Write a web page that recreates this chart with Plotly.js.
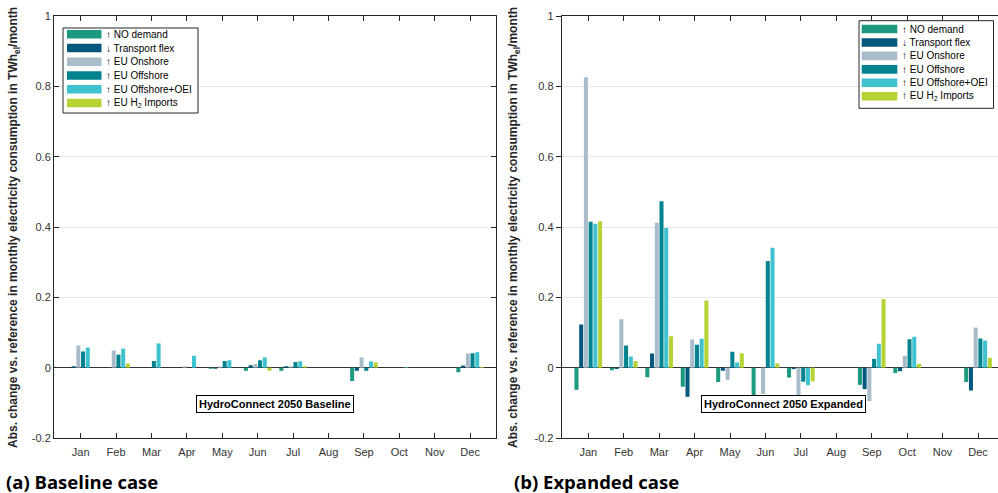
<!DOCTYPE html>
<html>
<head>
<meta charset="utf-8">
<script src="https://cdn.plot.ly/plotly-3.0.1.min.js"></script>
<style>
  html, body { margin: 0; padding: 0; background: #fff; overflow: hidden; }
  #chart { width: 1010px; height: 493px; }
</style>
</head>
<body>
<div id="chart"></div>
<script>
// Month categories and scenario names
const months = ['Jan', 'Feb', 'Mar', 'Apr', 'May', 'Jun', 'Jul', 'Aug', 'Sep', 'Oct', 'Nov', 'Dec'];
const seriesNames = ['\u2191 NO demand', '\u2193 Transport flex', '\u2191 EU Onshore',
                     '\u2191 EU Offshore', '\u2191 EU Offshore+OEI', '\u2191 EU H<sub>2</sub> Imports'];
const seriesColors = ['#1b9a80', '#03597d', '#a9bcc9', '#00838f', '#3ec2cf', '#b5d334'];

// HydroConnect 2050 Baseline: change in monthly consumption, TWh_el/month
const baseNO  = [0, 0, 0, 0, -0.003, -0.009, -0.009, 0, -0.038, 0, 0, -0.013];
const baseTF  = [0.004, 0, 0, 0, -0.003, 0.007, 0.004, 0, -0.009, 0, 0, 0.006];
const baseOn  = [0.063, 0.049, 0, 0.004, 0.003, 0.010, 0.004, 0, 0.029, 0, 0, 0.040];
const baseOff = [0.046, 0.037, 0.019, 0, 0.019, 0.021, 0.016, 0, -0.009, 0, 0, 0.041];
const baseOEI = [0.057, 0.054, 0.069, 0.034, 0.021, 0.029, 0.018, 0, 0.018, 0.002, 0, 0.044];
const baseH2  = [0, 0.012, 0, 0, 0, -0.009, 0.004, 0, 0.015, 0, 0, 0.002];

// HydroConnect 2050 Expanded
const expNO  = [-0.063, -0.007, -0.027, -0.054, -0.041, -0.078, -0.028, 0, -0.049, -0.015, 0, -0.041];
const expTF  = [0.123, -0.004, 0.040, -0.083, -0.009, 0, -0.004, 0, -0.061, -0.010, 0, -0.065];
const expOn  = [0.826, 0.138, 0.412, 0.080, -0.035, -0.075, -0.080, 0, -0.095, 0.034, 0, 0.114];
const expOff = [0.415, 0.063, 0.473, 0.065, 0.045, 0.303, -0.040, 0, 0.025, 0.081, 0, 0.083];
const expOEI = [0.409, 0.032, 0.397, 0.082, 0.015, 0.341, -0.050, 0, 0.068, 0.088, 0, 0.077];
const expH2  = [0.416, 0.019, 0.089, 0.191, 0.041, 0.012, -0.039, 0, 0.195, 0.011, 0, 0.028];

const yTicks = [-0.2, 0, 0.2, 0.4, 0.6, 0.8, 1];
const yTickText = ['-0.2', '0', '0.2', '0.4', '0.6', '0.8', '1'];
const yTitle = 'Abs. change vs. reference in monthly electricity consumption in TWh<sub>el</sub>/month';

const baseSeries = [baseNO, baseTF, baseOn, baseOff, baseOEI, baseH2];
const expSeries = [expNO, expTF, expOn, expOff, expOEI, expH2];

// Pixel helpers for the figure canvas
const W = 1010, H = 493;
const fx = p => p / W;
const fy = p => 1 - p / H;

const monthIdx = months.map((m, i) => i + 1);
const traces = [];
baseSeries.forEach((vals, k) => traces.push({
  type: 'bar', x: monthIdx, y: vals, xaxis: 'x', yaxis: 'y',
  name: seriesNames[k], marker: { color: seriesColors[k] }, showlegend: false, hoverinfo: 'skip'
}));
expSeries.forEach((vals, k) => traces.push({
  type: 'bar', x: monthIdx, y: vals, xaxis: 'x2', yaxis: 'y2',
  name: seriesNames[k], marker: { color: seriesColors[k] }, showlegend: false, hoverinfo: 'skip'
}));

const axisFont = { family: 'Liberation Sans, Arial, sans-serif', size: 11, color: '#333' };
function xAxis(domain, range) {
  return {
    domain: domain, range: range, tickmode: 'array', tickvals: monthIdx, ticktext: months,
    ticks: 'inside', ticklen: 5, tickcolor: '#262626', mirror: 'ticks',
    showline: true, linecolor: '#262626', linewidth: 1, showgrid: false, zeroline: false,
    tickfont: axisFont, ticklabelstandoff: 4, fixedrange: true
  };
}
function yAxis(domain, anchor, tickDir) {
  return {
    domain: domain, anchor: anchor, range: [-0.2, 1], tickmode: 'array', tickvals: yTicks, ticktext: yTickText,
    ticks: tickDir, ticklen: 5, tickcolor: '#262626', mirror: 'ticks',
    showline: true, linecolor: '#262626', linewidth: 1,
    showgrid: true, gridcolor: '#e8e8e8', gridwidth: 1,
    zeroline: true, zerolinecolor: '#333', zerolinewidth: 1.3,
    tickfont: axisFont, fixedrange: true
  };
}

const yDom = [fy(438), fy(16)];

// Legend boxes drawn as shapes + annotations (wide colour swatches)
const shapes = [];
const annotations = [];
function addLegend(box, swX, rowY) {
  shapes.push({ type: 'rect', xref: 'paper', yref: 'paper',
    x0: fx(box[0]), x1: fx(box[1]), y0: fy(box[3]), y1: fy(box[2]),
    line: { color: '#262626', width: 1 }, fillcolor: '#fff', layer: 'above' });
  seriesNames.forEach((name, k) => {
    const cy = rowY[0] + k * rowY[1];
    shapes.push({ type: 'rect', xref: 'paper', yref: 'paper',
      x0: fx(swX[0]), x1: fx(swX[1]), y0: fy(cy + 4.3), y1: fy(cy - 4.3),
      line: { width: 0 }, fillcolor: seriesColors[k], layer: 'above' });
    annotations.push({ xref: 'paper', yref: 'paper', x: fx(swX[1] + 2.5), y: fy(cy),
      xanchor: 'left', yanchor: 'middle', showarrow: false, text: name,
      font: { family: 'Liberation Sans, Arial, sans-serif', size: 10, color: '#000' } });
  });
}
addLegend([63, 198, 28, 113], [67, 101.5], [34.3, 13.75]);
addLegend([859, 993.5, 20.7, 108.3], [861.7, 897.3], [29, 13.45]);

// Scenario labels inside each panel
[['HydroConnect 2050 Baseline', 275], ['HydroConnect 2050 Expanded', 783]].forEach(([t, cx]) => {
  annotations.push({ xref: 'paper', yref: 'paper', x: fx(cx), y: fy(404), xanchor: 'center', yanchor: 'middle',
    showarrow: false, text: '<b>' + t + '</b>', bgcolor: '#fff', bordercolor: '#000', borderwidth: 1, borderpad: 2,
    font: { family: 'Liberation Sans, Arial, sans-serif', size: 11, color: '#000' } });
});

// Y-axis titles
[13.5, 513.5].forEach(x => {
  annotations.push({ xref: 'paper', yref: 'paper', x: fx(x), y: fy(227.5), xanchor: 'center', yanchor: 'middle',
    textangle: -90, showarrow: false, text: '<b>' + yTitle + '</b>',
    font: { family: 'Liberation Sans, Arial, sans-serif', size: 12, color: '#262626' } });
});

// Panel captions
[['(a) Baseline case', 4], ['(b) Expanded case', 512]].forEach(([t, x]) => {
  annotations.push({ xref: 'paper', yref: 'paper', x: fx(x), y: fy(481.5), xanchor: 'left', yanchor: 'middle',
    showarrow: false, text: '<b>' + t + '</b>',
    font: { family: '"Open Sans", sans-serif', size: 18.5, color: '#000' } });
});

const layout = {
  width: W, height: H,
  margin: { l: 0, r: 0, t: 0, b: 0 },
  paper_bgcolor: '#fff', plot_bgcolor: '#fff',
  barmode: 'group', bargap: 0.2, bargroupgap: 0.15,
  showlegend: false,
  xaxis: xAxis([fx(54), fx(496)], [0.246, 12.73]),
  yaxis: yAxis(yDom, 'x', 'inside'),
  xaxis2: Object.assign(xAxis([fx(561.7), fx(1004.6)], [0.25, 12.75]), { anchor: 'y2' }),
  yaxis2: yAxis(yDom, 'x2', 'outside'),
  shapes: shapes,
  annotations: annotations
};

Plotly.newPlot('chart', traces, layout, { staticPlot: true, displayModeBar: false });
</script>
</body>
</html>
